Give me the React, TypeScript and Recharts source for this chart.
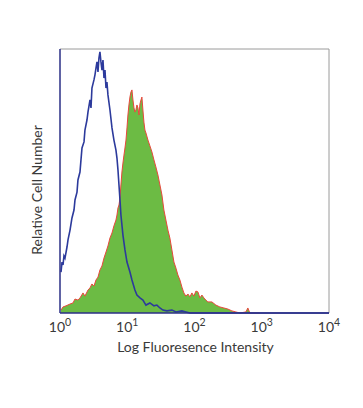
import React from "react";
import { ComposedChart, Area, Line, XAxis, YAxis, ReferenceLine, Label } from "recharts";

// log10 fluorescence channel (decades) and relative counts
const isotypeLog = [0.015,0.030,0.045,0.059,0.074,0.104,0.119,0.149,0.178,0.208,0.223,0.253,0.267,0.297,0.312,0.327,0.357,0.371,0.401,0.416,0.446,0.461,0.475,0.505,0.520,0.535,0.550,0.565,0.579,0.594,0.609,0.624,0.639,0.654,0.669,0.684,0.698,0.713,0.743,0.773,0.802,0.832,0.847,0.862,0.877,0.892,0.906,0.936,0.966,0.996,1.040,1.070,1.114,1.144,1.189,1.233,1.278,1.337,1.397,1.441,1.486,1.530,1.590,1.664,1.724,1.813,1.872,1.932,4.0];
const isotypeCount = [15.5,19.3,18.2,21.6,20.8,25.0,27.7,31.4,36.0,39.0,42.8,45.8,50.4,53.4,58.0,62.5,64.8,69.3,73.1,76.1,80.7,77.7,85.2,88.3,90.2,92.8,95.1,91.3,96.6,98.9,95.1,92.0,95.8,89.0,92.0,85.2,87.5,82.6,76.9,70.1,65.5,61.7,58.7,54.2,48.5,42.8,37.1,29.5,23.9,19.3,15.5,12.5,8.7,6.8,5.7,4.9,3.0,3.8,2.7,3.0,1.9,1.1,0.8,1.1,0.4,0.8,0.4,0,0];

const stainedLog = [0.015,0.045,0.089,0.149,0.193,0.223,0.267,0.297,0.342,0.371,0.416,0.446,0.475,0.505,0.535,0.565,0.594,0.624,0.654,0.684,0.713,0.743,0.773,0.802,0.832,0.847,0.862,0.877,0.892,0.906,0.921,0.936,0.951,0.966,0.981,0.996,1.010,1.025,1.040,1.055,1.070,1.085,1.100,1.114,1.129,1.144,1.159,1.174,1.189,1.204,1.218,1.233,1.248,1.263,1.278,1.308,1.337,1.367,1.397,1.426,1.456,1.486,1.516,1.545,1.575,1.605,1.634,1.664,1.694,1.724,1.753,1.783,1.813,1.842,1.872,1.902,1.932,1.961,1.991,2.021,2.051,2.080,2.110,2.140,2.169,2.199,2.259,2.318,2.377,2.437,2.496,2.556,2.615,2.675,2.764,2.793,2.823,2.972];
const stainedCount = [1.1,2.3,2.7,3.4,3.8,5.3,4.9,5.7,7.6,6.4,8.7,9.5,11.0,10.2,12.5,13.6,16.3,17.8,20.8,23.1,25.4,28.4,30.3,33.0,35.2,37.1,39.8,40.9,43.6,48.5,53.4,56.8,59.8,62.5,65.5,70.1,75.0,78.8,81.8,83.7,84.5,80.7,77.7,76.1,76.9,78.8,77.7,75.0,79.2,80.7,81.8,76.9,72.3,69.3,68.2,65.5,63.3,61.0,58.0,55.3,52.3,48.5,44.7,39.0,35.2,31.4,28.4,23.9,19.3,17.0,14.4,12.5,9.8,7.6,6.4,7.2,6.1,7.6,6.4,8.3,8.0,5.7,6.8,5.7,4.9,4.2,4.2,3.0,2.3,1.9,1.5,0.8,0.4,0,0.4,1.9,0,0];

const decadeTicks = [0, 1, 2, 3, 4];

const isotypeData = isotypeLog.map((x, i) => ({ x, y: isotypeCount[i] }));
const stainedData = stainedLog.map((x, i) => ({ x, y: stainedCount[i] }));

const FONT = "Lato, 'Liberation Sans', sans-serif";
const TEXT = "#3a3a3a";

const PowTick = (props: any) => {
  const { x, y, payload } = props;
  return (
    <text x={x} y={y + 11} textAnchor="middle" fontFamily={FONT} fontSize={14} fill={TEXT}>
      10
      <tspan dy={-6} fontSize={10.5}>{payload.value}</tspan>
    </text>
  );
};

export default function App() {
  return (
    <ComposedChart
      width={355}
      height={400}
      margin={{ top: 41, right: 34, bottom: 55, left: 22 }}
    >
      <XAxis
        type="number"
        dataKey="x"
        domain={[0, 4]}
        ticks={decadeTicks}
        allowDataOverflow
        tickLine={false}
        tick={<PowTick />}
        axisLine={{ stroke: "#2b2f86", strokeWidth: 1.5 }}
        height={40}
      >
        <Label
          content={(p: any) => {
            const vb = p.viewBox;
            return (
              <text x={vb.x + vb.width / 2 + 1} y={vb.y + 39} textAnchor="middle" fontFamily={FONT} fontSize={14} fill={TEXT}>
                Log Fluoresence Intensity
              </text>
            );
          }}
        />
      </XAxis>
      <YAxis
        type="number"
        domain={[0, 100]}
        width={30}
        tick={false}
        tickLine={false}
        axisLine={{ stroke: "#2b2f86", strokeWidth: 1.5 }}
      >
        <Label
          content={(p: any) => {
            const vb = p.viewBox;
            const cx = vb.x + vb.width - 18;
            const cy = vb.y + vb.height / 2 + 9;
            return (
              <text x={cx} y={cy} transform={`rotate(-90 ${cx} ${cy})`} textAnchor="middle" fontFamily={FONT} fontSize={14} fill={TEXT}>
                Relative Cell Number
              </text>
            );
          }}
        />
      </YAxis>
      <ReferenceLine y={100} stroke="#9a9a9a" strokeWidth={1} />
      <ReferenceLine x={4} stroke="#9a9a9a" strokeWidth={1} />
      <Area
        data={stainedData}
        dataKey="y"
        type="linear"
        fill="#6cbb44"
        fillOpacity={1}
        stroke="#e8483c"
        strokeWidth={1}
        isAnimationActive={false}
        dot={false}
        activeDot={false}
      />
      <Line
        data={isotypeData}
        dataKey="y"
        type="linear"
        stroke="#2c3a9c"
        strokeWidth={1.6}
        dot={false}
        activeDot={false}
        isAnimationActive={false}
      />
    </ComposedChart>
  );
}
